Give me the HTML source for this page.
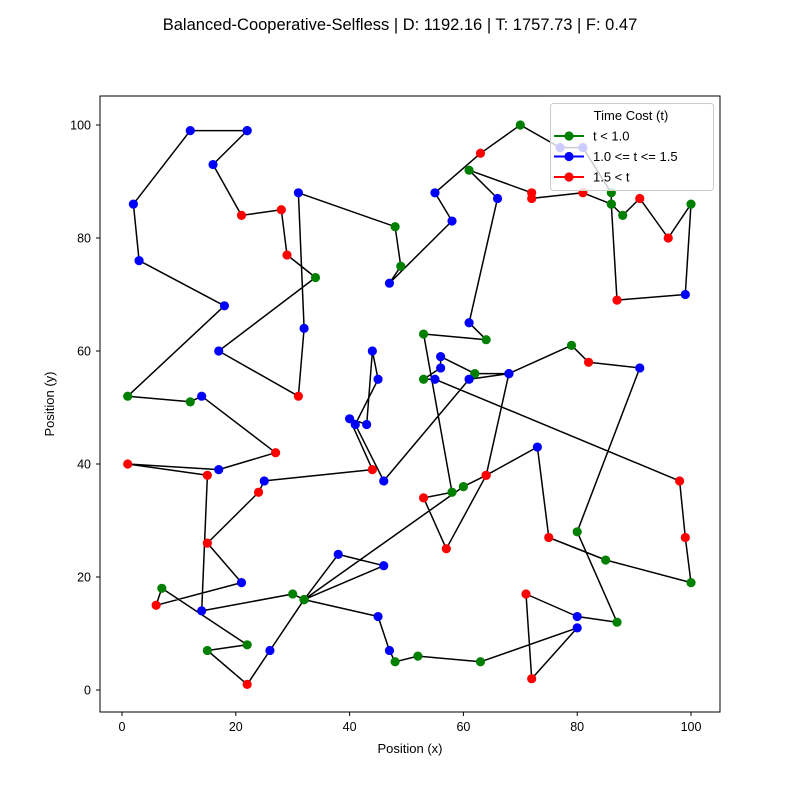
<!DOCTYPE html>
<html><head><meta charset="utf-8"><style>
body{margin:0;background:#fff}
svg text{font-family:"Liberation Sans","DejaVu Sans",sans-serif;fill:#000}
</style></head><body>
<svg id="chart" width="800" height="800" viewBox="0 0 800 800" xmlns="http://www.w3.org/2000/svg">
<rect width="800" height="800" fill="#fff"/>
<text x="400" y="30" text-anchor="middle" font-size="16.5">Balanced-Cooperative-Selfless | D: 1192.16 | T: 1757.73 | F: 0.47</text>
<g id="axes"></g>
<g id="path"></g>
<g id="pts"></g>
<rect x="100" y="96" width="620" height="616" fill="none" stroke="#000" stroke-width="1"/>
<g id="legend"></g>
<text x="410" y="753" text-anchor="middle" font-size="13">Position (x)</text>
<text transform="translate(54,404) rotate(-90)" text-anchor="middle" font-size="13">Position (y)</text>
</svg>
<script>
const xTicks = [0,20,40,60,80,100];
const yTicks = [0,20,40,60,80,100];
const routeX = [22,12,2,3,18,1,12,14,27,17,1,15,14,30,32,38,46,32,60,64,73,75,85,100,99,98,55,53,56,56,62,68,79,82,91,80,87,80,71,72,80,63,52,48,47,45,32,26,22,15,22,7,6,21,15,24,25,44,40,43,44,45,41,46,61,68,64,57,53,58,53,64,61,66,61,72,72,81,86,88,91,96,100,99,87,86,86,81,77,70,63,55,58,47,49,48,31,32,31,17,34,29,28,21,16,22];
const routeY = [99,99,86,76,68,52,51,52,42,39,40,38,14,17,16,24,22,16,36,38,43,27,23,19,27,37,55,55,57,59,56,56,61,58,57,28,12,13,17,2,11,5,6,5,7,13,16,7,1,7,8,18,15,19,26,35,37,39,48,47,60,55,47,37,55,56,38,25,34,35,63,62,65,87,92,88,87,88,86,84,87,80,86,70,69,86,88,96,96,100,95,88,83,72,75,82,88,64,52,60,73,77,85,84,93,99];
const routeCat = ["b","b","b","b","b","g","g","b","r","b","r","r","b","g","g","b","b","g","g","r","b","r","g","g","r","r","b","g","b","b","g","b","g","r","b","g","g","b","r","r","b","g","g","g","b","b","g","b","r","g","g","g","r","b","r","r","b","r","b","b","b","b","b","b","b","b","r","r","r","g","g","g","b","b","g","r","r","r","g","g","r","r","g","b","r","g","g","b","b","g","r","b","b","b","g","g","b","b","r","b","g","r","r","r","b","b"];
const legendLabels = ["t < 1.0","1.0 <= t <= 1.5","1.5 < t"];
const legendCats = ["g","b","r"];
const colors = {g:"#008000",b:"#0000ff",r:"#ff0000"};
const NS="http://www.w3.org/2000/svg";
function sx(v){return 122+5.69*v;}
function sy(v){return 690-5.65*v;}
function mk(tag,attrs,parent){const e=document.createElementNS(NS,tag);for(const k in attrs)e.setAttribute(k,attrs[k]);parent.appendChild(e);return e;}
const axes=document.getElementById('axes');
xTicks.forEach(t=>{
  const l=mk('line',{x1:sx(t),x2:sx(t),y1:712,y2:716,stroke:'#000'},axes);
  
  
  const tx=mk('text',{x:sx(t),y:731,'text-anchor':'middle','font-size':'12.5'},axes);
  tx.textContent=t;
  
  
});
yTicks.forEach(t=>{
  const l=mk('line',{x1:96,x2:100,y1:sy(t),y2:sy(t),stroke:'#000'},axes);
  
  
  const tx=mk('text',{x:91,y:sy(t)+4.5,'text-anchor':'end','font-size':'12.5'},axes);
  tx.textContent=t;
  
  
});
const pts=routeX.map((x,i)=>sx(x).toFixed(1)+','+sy(routeY[i]).toFixed(1)).join(' ');
const pl=mk('polyline',{points:pts,fill:'none',stroke:'#000','stroke-width':1.5,'stroke-linejoin':'round'},document.getElementById('path'));


const pg=document.getElementById('pts');
routeX.forEach((x,i)=>{
  const c=mk('circle',{cx:sx(x),cy:sy(routeY[i]),r:4.6,fill:colors[routeCat[i]]},pg);
  
  
});
const lg=document.getElementById('legend');
const box=mk('rect',{x:550.5,y:103.5,width:163,height:87,rx:3,fill:'#fff','fill-opacity':0.8,stroke:'#ccc'},lg);


const tt=mk('text',{x:631,y:120,'text-anchor':'middle','font-size':'13'},lg);
tt.textContent='Time Cost (t)';


legendCats.forEach((c,i)=>{
  const y=136+20.5*i;
  const g=mk('g',{},lg);
  
  
  mk('line',{x1:554,x2:584,y1:y,y2:y,stroke:colors[c],'stroke-width':2},g);
  mk('circle',{cx:569,cy:y,r:4.6,fill:colors[c]},g);
  const t=mk('text',{x:593,y:y+4.5,'font-size':'13'},g);
  t.textContent=legendLabels[i];
});
</script>
</body></html>
